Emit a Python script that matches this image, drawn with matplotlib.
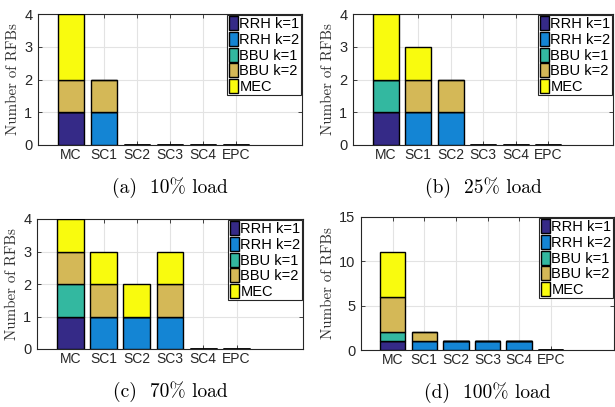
import matplotlib
matplotlib.use("Agg")
import matplotlib.pyplot as plt
import numpy as np

# stations on the x axis and the five RFB types (stack order, bottom to top)
stations = ["MC", "SC1", "SC2", "SC3", "SC4", "EPC"]
rfb_types = ["RRH k=1", "RRH k=2", "BBU k=1", "BBU k=2", "MEC"]
colors = ["#352a87", "#1485d4", "#33b8a0", "#d4b857", "#f9fb0e"]

# per-load counts: rows = rfb_types, cols = stations
load_10 = [
    [1, 0, 0, 0, 0, 0],
    [0, 1, 0, 0, 0, 0],
    [0, 0, 0, 0, 0, 0],
    [1, 1, 0, 0, 0, 0],
    [2, 0, 0, 0, 0, 0],
]
load_25 = [
    [1, 0, 0, 0, 0, 0],
    [0, 1, 1, 0, 0, 0],
    [1, 0, 0, 0, 0, 0],
    [0, 1, 1, 0, 0, 0],
    [2, 1, 0, 0, 0, 0],
]
load_70 = [
    [1, 0, 0, 0, 0, 0],
    [0, 1, 1, 1, 0, 0],
    [1, 0, 0, 0, 0, 0],
    [1, 1, 0, 1, 0, 0],
    [1, 1, 1, 1, 0, 0],
]
load_100 = [
    [1, 0, 0, 0, 0, 0],
    [0, 1, 1, 1, 1, 0],
    [1, 0, 0, 0, 0, 0],
    [4, 1, 0, 0, 0, 0],
    [5, 0, 0, 0, 0, 0],
]

panels = [
    (load_10, "(a)  10% load", [0, 1, 2, 3, 4], 4),
    (load_25, "(b)  25% load", [0, 1, 2, 3, 4], 4),
    (load_70, "(c)  70% load", [0, 1, 2, 3, 4], 4),
    (load_100, "(d)  100% load", [0, 5, 10, 15], 15),
]

W, H = 615, 407
# axes boxes in pixels: left, top, right, bottom
boxes = [
    (38, 14, 302, 145),
    (353, 14, 613, 145),
    (37, 219, 303, 349),
    (361, 217, 614, 350),
]

sans = ["Liberation Sans", "DejaVu Sans"]
serif = ["cmr10", "DejaVu Serif"]
plt.rcParams["axes.formatter.use_mathtext"] = True

fig = plt.figure(figsize=(W / 100, H / 100), dpi=100)

for (data, caption, yticks, ymax), (l, t, r, b) in zip(panels, boxes):
    ax = fig.add_axes([l / W, 1 - b / H, (r - l) / W, (b - t) / H])
    x = np.arange(1, len(stations) + 1)
    bottom = np.zeros(len(stations))
    handles = []
    for name, vals, col in zip(rfb_types, data, colors):
        vals = np.array(vals, dtype=float)
        h = ax.bar(x, vals, 0.8, bottom=bottom, color=col, edgecolor="black",
                   linewidth=1.0, label=name, zorder=3)
        handles.append(h)
        bottom += vals
    # zero-height bars still show as a black line at 0
    zero = bottom == 0
    ax.bar(x[zero], np.zeros(zero.sum()), 0.8, color="none", edgecolor="black",
           linewidth=1.8, zorder=3)

    ax.set_xlim(0, 8)
    ax.set_ylim(0, ymax)
    ax.set_xticks(x)
    ax.set_xticklabels(stations, family=sans, fontsize=10)
    ax.set_yticks(yticks)
    ax.set_yticklabels([str(v) for v in yticks], family=sans, fontsize=10.5)
    ax.tick_params(direction="in", length=3, width=0.6, top=True, right=True,
                   colors="#262626", pad=2)
    ax.tick_params(axis="y", pad=4)
    ax.grid(True, color="#e3e3e3", linewidth=0.8, zorder=0)
    ax.set_axisbelow(True)
    for sp in ax.spines.values():
        sp.set_color("#262626")
        sp.set_linewidth(0.8)

    ax.set_ylabel("Number of RFBs", family=serif, fontsize=10.8, color="#333333",
                  labelpad=3)

    leg = ax.legend(handles=handles, loc="upper right",
                    prop={"family": sans, "size": 10.5}, handlelength=0.6,
                    handleheight=1.1, handletextpad=0.12, labelspacing=0.04,
                    borderpad=0.12, borderaxespad=0.05, fancybox=False,
                    framealpha=1, edgecolor="#262626")
    leg.get_frame().set_linewidth(0.8)

    cx = (l + r) / 2 / W
    cy = 1 - (b + 43) / H
    fig.text(cx, cy, caption, family=serif, fontsize=14, ha="center", va="center")

fig.savefig("out.png", dpi=100)
